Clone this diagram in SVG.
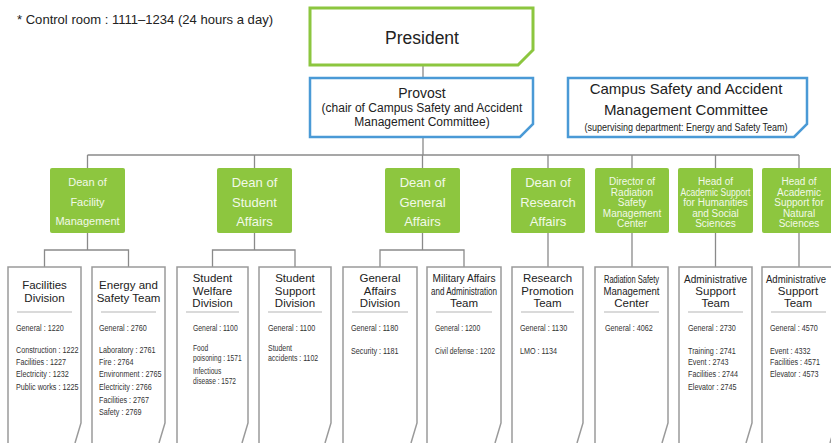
<svg xmlns="http://www.w3.org/2000/svg" width="831" height="443" viewBox="0 0 831 443">
<style>
text{font-family:"Liberation Sans",Arial,sans-serif}
.note{font-size:13px;fill:#222}
.pres{fill:#fff;stroke:#8cc63f;stroke-width:3}
.blue{fill:#fff;stroke:#4a9ad6;stroke-width:2.5}
.ptxt{font-size:17.5px;fill:#222;text-anchor:middle}
.btxt{fill:#222;text-anchor:middle}
.green{fill:#8dc63f}
.gt{fill:#f2f9e8;text-anchor:middle}
.g13{font-size:13px}
.g11{font-size:11px}
.g10{font-size:10px}
.unit{fill:#fff;stroke:#9a9a9a;stroke-width:1.5}
.sep{stroke:#b5b5b5;stroke-width:1}
.tt{font-size:11.5px;fill:#222;text-anchor:middle}
.det{font-size:9.5px;fill:#333}
.det2{font-size:8.5px;fill:#333}
.conn{fill:none;stroke:#8a8a8a;stroke-width:1.3}
</style>

<text class="note" x="17" y="24" textLength="256" lengthAdjust="spacingAndGlyphs">* Control room : 1111–1234 (24 hours a day)</text>

<g id="connectors" class="conn">
  <path d="M423,65 V78 M423,137 V155"/>
  <path d="M87.5,155 H799 M87.5,155 V168 M254.5,155 V168 M422.5,155 V168 M548,155 V168 M632,155 V168 M715.5,155 V168 M799,155 V168"/>
  <path d="M87.5,233 V250 M44.5,267 V250 H128.5 V267"/>
  <path d="M254.5,233 V250 M212.5,267 V250 H295 V267"/>
  <path d="M422.5,233 V250 M380,267 V250 H464 V267"/>
  <path d="M548,233 V267 M632,233 V267 M715.5,233 V267 M799,233 V267"/>
</g>

<g id="president">
  <path class="pres" d="M310,8 H533 V50 L518,65 H310 Z"/>
  <text class="ptxt" x="422" y="44">President</text>
</g>

<g id="provost">
  <path class="blue" d="M310,78 H533 V124 L520,137 H310 Z"/>
  <text class="btxt" x="422" y="98" font-size="14">Provost</text>
  <text class="btxt" x="422" y="112" font-size="12">(chair of Campus Safety and Accident</text>
  <text class="btxt" x="422" y="126" font-size="12">Management Committee)</text>
</g>

<g id="committee">
  <path class="blue" d="M568,78 H807 V124 L794,137 H568 Z"/>
  <text class="btxt" x="686" y="94" font-size="15">Campus Safety and Accident</text>
  <text class="btxt" x="686" y="115" font-size="15">Management Committee</text>
  <text class="btxt" x="686" y="131" font-size="10" textLength="203" lengthAdjust="spacingAndGlyphs">(supervising department: Energy and Safety Team)</text>
</g>

<g id="dean-facility">
  <rect class="green" x="50" y="168" width="75" height="65" rx="2"/>
  <text class="gt g11" x="87.5" y="186">Dean of</text>
  <text class="gt g11" x="87.5" y="206">Facility</text>
  <text class="gt g11" x="87.5" y="225">Management</text>
</g>
<g id="dean-student">
  <rect class="green" x="217" y="168" width="75" height="65" rx="2"/>
  <text class="gt g13" x="254.5" y="187">Dean of</text>
  <text class="gt g13" x="254.5" y="207">Student</text>
  <text class="gt g13" x="254.5" y="226">Affairs</text>
</g>
<g id="dean-general">
  <rect class="green" x="385" y="168" width="75" height="65" rx="2"/>
  <text class="gt g13" x="422.5" y="187">Dean of</text>
  <text class="gt g13" x="422.5" y="207">General</text>
  <text class="gt g13" x="422.5" y="226">Affairs</text>
</g>
<g id="dean-research">
  <rect class="green" x="511" y="168" width="74" height="65" rx="2"/>
  <text class="gt g13" x="548" y="187">Dean of</text>
  <text class="gt g13" x="548" y="207">Research</text>
  <text class="gt g13" x="548" y="226">Affairs</text>
</g>
<g id="director-radiation">
  <rect class="green" x="595" y="168" width="74" height="65" rx="2"/>
  <text class="gt g10" x="632" y="185">Director of</text>
  <text class="gt g10" x="632" y="195.5">Radiation</text>
  <text class="gt g10" x="632" y="206">Safety</text>
  <text class="gt g10" x="632" y="216.5">Management</text>
  <text class="gt g10" x="632" y="227">Center</text>
</g>
<g id="head-humanities">
  <rect class="green" x="678" y="168" width="75" height="65" rx="2"/>
  <text class="gt g10" x="715.5" y="185">Head of</text>
  <text class="gt g10" x="715.5" y="195.5" textLength="70" lengthAdjust="spacingAndGlyphs">Academic Support</text>
  <text class="gt g10" x="715.5" y="206">for Humanities</text>
  <text class="gt g10" x="715.5" y="216.5">and Social</text>
  <text class="gt g10" x="715.5" y="227">Sciences</text>
</g>
<g id="head-natural">
  <rect class="green" x="762" y="168" width="74" height="65" rx="2"/>
  <text class="gt g10" x="799" y="185">Head of</text>
  <text class="gt g10" x="799" y="195.5">Academic</text>
  <text class="gt g10" x="799" y="206">Support for</text>
  <text class="gt g10" x="799" y="216.5">Natural</text>
  <text class="gt g10" x="799" y="227">Sciences</text>
</g>

<g id="facilities-division">
  <path class="unit" d="M8,443 V267 H81 V423 L75,443"/>
  <text class="tt" x="44.5" y="289">Facilities</text>
  <text class="tt" x="44.5" y="302">Division</text>
  <line class="sep" x1="17" y1="312" x2="72" y2="312"/>
  <g class="det" transform="translate(16,0) scale(0.76,1)">
    <text y="331">General : 1220</text>
    <text y="353">Construction : 1222</text>
    <text y="365">Facilities : 1227</text>
    <text y="377">Electricity : 1232</text>
    <text y="390">Public works : 1225</text>
  </g>
</g>
<g id="energy-safety-team">
  <path class="unit" d="M92,443 V267 H165 V423 L159,443"/>
  <text class="tt" x="128.5" y="289">Energy and</text>
  <text class="tt" x="128.5" y="302">Safety Team</text>
  <line class="sep" x1="101" y1="312" x2="156" y2="312"/>
  <g class="det" transform="translate(99,0) scale(0.76,1)">
    <text y="331">General : 2760</text>
    <text y="353">Laboratory : 2761</text>
    <text y="365">Fire : 2764</text>
    <text y="377">Environment : 2765</text>
    <text y="390">Electricity : 2766</text>
    <text y="403">Facilities : 2767</text>
    <text y="415">Safety : 2769</text>
  </g>
</g>
<g id="student-welfare">
  <path class="unit" d="M177,443 V267 H248 V423 L242,443"/>
  <text class="tt" x="212.5" y="282">Student</text>
  <text class="tt" x="212.5" y="295">Welfare</text>
  <text class="tt" x="212.5" y="307">Division</text>
  <line class="sep" x1="186" y1="312" x2="239" y2="312"/>
  <g class="det" transform="translate(193,0) scale(0.72,1)">
    <text y="331">General : 1100</text>
  </g>
  <g class="det2" transform="translate(193,0) scale(0.78,1)">
    <text y="351">Food</text>
    <text y="361">poisoning : 1571</text>
    <text y="374">Infectious</text>
    <text y="384">disease : 1572</text>
  </g>
</g>
<g id="student-support">
  <path class="unit" d="M259,443 V267 H331 V423 L325,443"/>
  <text class="tt" x="295" y="282">Student</text>
  <text class="tt" x="295" y="295">Support</text>
  <text class="tt" x="295" y="307">Division</text>
  <line class="sep" x1="268" y1="312" x2="322" y2="312"/>
  <g class="det" transform="translate(268,0) scale(0.76,1)">
    <text y="331">General : 1100</text>
  </g>
  <g class="det2" transform="translate(268,0) scale(0.82,1)">
    <text y="351">Student</text>
    <text y="361">accidents : 1102</text>
  </g>
</g>
<g id="general-affairs">
  <path class="unit" d="M343,443 V267 H417 V423 L411,443"/>
  <text class="tt" x="380" y="282">General</text>
  <text class="tt" x="380" y="295">Affairs</text>
  <text class="tt" x="380" y="307">Division</text>
  <line class="sep" x1="352" y1="312" x2="408" y2="312"/>
  <g class="det" transform="translate(351,0) scale(0.76,1)">
    <text y="331">General : 1180</text>
    <text y="354">Security : 1181</text>
  </g>
</g>
<g id="military-affairs">
  <path class="unit" d="M427,443 V267 H501 V423 L495,443"/>
  <text class="tt" x="464" y="282" textLength="63" lengthAdjust="spacingAndGlyphs">Military Affairs</text>
  <text class="tt" x="464" y="295" style="font-size:10.5px" textLength="66" lengthAdjust="spacingAndGlyphs">and Administration</text>
  <text class="tt" x="464" y="307">Team</text>
  <line class="sep" x1="436" y1="312" x2="492" y2="312"/>
  <g class="det" transform="translate(435,0) scale(0.72,1)">
    <text y="331">General : 1200</text>
    <text y="354">Civil defense : 1202</text>
  </g>
</g>
<g id="research-promotion">
  <path class="unit" d="M512,443 V267 H583 V423 L577,443"/>
  <text class="tt" x="547.5" y="282">Research</text>
  <text class="tt" x="547.5" y="295">Promotion</text>
  <text class="tt" x="547.5" y="307">Team</text>
  <line class="sep" x1="521" y1="312" x2="574" y2="312"/>
  <g class="det" transform="translate(520,0) scale(0.76,1)">
    <text y="331">General : 1130</text>
    <text y="354">LMO : 1134</text>
  </g>
</g>
<g id="radiation-center">
  <path class="unit" d="M595,443 V267 H668 V423 L662,443"/>
  <text class="tt" x="631.5" y="283" textLength="55" lengthAdjust="spacingAndGlyphs">Radiation Safety</text>
  <text class="tt" x="631.5" y="295" textLength="56" lengthAdjust="spacingAndGlyphs">Management</text>
  <text class="tt" x="631.5" y="307">Center</text>
  <line class="sep" x1="604" y1="312" x2="659" y2="312"/>
  <g class="det" transform="translate(605,0) scale(0.76,1)">
    <text y="331">General : 4062</text>
  </g>
</g>
<g id="admin-support-humanities">
  <path class="unit" d="M679,443 V267 H752 V423 L746,443"/>
  <text class="tt" x="715.5" y="283" textLength="63" lengthAdjust="spacingAndGlyphs">Administrative</text>
  <text class="tt" x="715.5" y="295">Support</text>
  <text class="tt" x="715.5" y="307">Team</text>
  <line class="sep" x1="688" y1="312" x2="743" y2="312"/>
  <g class="det" transform="translate(688,0) scale(0.76,1)">
    <text y="331">General : 2730</text>
    <text y="354">Training : 2741</text>
    <text y="365">Event : 2743</text>
    <text y="377">Facilities : 2744</text>
    <text y="390">Elevator : 2745</text>
  </g>
</g>
<g id="admin-support-natural">
  <path class="unit" d="M762,443 V267 H836 V423 L830,443"/>
  <text class="tt" x="796" y="283" style="font-size:10px" textLength="60" lengthAdjust="spacingAndGlyphs">Administrative</text>
  <text class="tt" x="798" y="295">Support</text>
  <text class="tt" x="798" y="307">Team</text>
  <line class="sep" x1="771" y1="312" x2="826" y2="312"/>
  <g class="det" transform="translate(770,0) scale(0.76,1)">
    <text y="331">General : 4570</text>
    <text y="354">Event : 4332</text>
    <text y="365">Facilities : 4571</text>
    <text y="377">Elevator : 4573</text>
  </g>
</g>
</svg>
